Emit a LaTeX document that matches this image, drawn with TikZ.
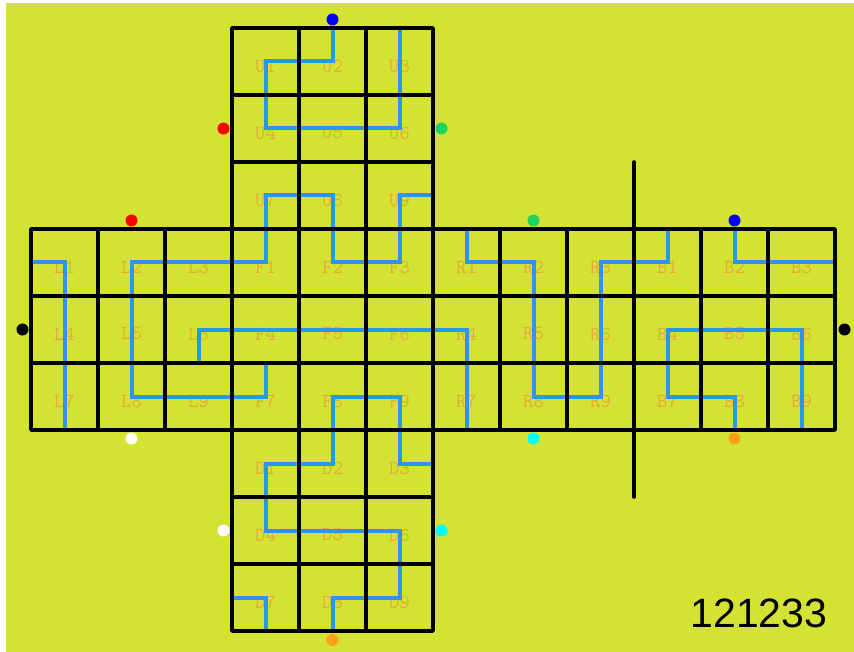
\documentclass[tikz,border=0pt]{standalone}
\usepackage{fontspec}
\newfontfamily\codefont{Liberation Sans}
\definecolor{bgyellow}{RGB}{212,226,52}
\definecolor{lblorange}{RGB}{226,172,58}
\definecolor{pathblue}{RGB}{43,150,240}
\definecolor{dotgreen}{RGB}{30,212,90}
\definecolor{dotorange}{RGB}{255,160,20}
\definecolor{dotcyan}{RGB}{0,255,255}
\tikzset{
  cell/.style={rectangle, minimum width=67pt, minimum height=67pt, inner sep=0pt, outer sep=0pt},
  lbl/.style={text=lblorange, font=\ttfamily\fontsize{20}{20}\selectfont, inner sep=0pt, yshift=-4.5pt},
  bluepath/.style={draw=pathblue, line width=4pt, line join=miter},
  gridline/.style={draw=black, line width=3.5pt, line join=round, line cap=round},
  dot/.style={circle, minimum size=12pt, inner sep=0pt, outer sep=0pt},
}
\begin{document}
\begin{tikzpicture}[x=1pt,y=-1pt]
\useasboundingbox (0,0) rectangle (854,652);
\fill[white] (0,0) rectangle (854,652);
\fill[bgyellow] (6,3) rectangle (854,652);
% cells with labels
\foreach \f/\cx/\cy in {U/3/0, L/0/3, F/3/3, R/6/3, B/9/3, D/3/6} {
  \foreach \k in {1,...,9} {
    \pgfmathtruncatemacro\cc{\cx + mod(\k-1,3)}
    \pgfmathtruncatemacro\rr{\cy + div(\k-1,3)}
    \node[cell, label={[lbl]center:\f\k}] (\f\k) at ({64.5+67*\cc},{61.5+67*\rr}) {};
  }
}
% blue paths
\draw[bluepath] (U2.north) -- (U2.center) -- (U1.center) -- (U4.center) -- (U6.center) -- (U3.center) -- (U3.north);
\draw[bluepath] (F7.north) -- (F7.center) -- (L8.center) -- (L2.center) -- (F1.center) -- (U7.center) -- (U8.center) -- (F2.center) -- (F3.center) -- (U9.center) -- (U9.east);
\draw[bluepath] (L1.west) -- (L1.center) -- (L7.center) -- (L7.south);
\draw[bluepath] (L6.south) -- (L6.center) -- (R4.center) -- (R7.center) -- (R7.south);
\draw[bluepath] (D8.south) -- (D8.center) -- (D9.center) -- (D6.center) -- (D4.center) -- (D1.center) -- (D2.center) -- (F8.center) -- (F9.center) -- (D3.center) -- (D3.east);
\draw[bluepath] (D7.west) -- (D7.center) -- (D7.south);
\draw[bluepath] (R1.north) -- (R1.center) -- (R2.center) -- (R8.center) -- (R9.center) -- (R3.center) -- (B1.center) -- (B1.north);
\draw[bluepath] (B2.north) -- (B2.center) -- (B3.center) -- (B3.east);
\draw[bluepath] (B8.south) -- (B8.center) -- (B7.center) -- (B4.center) -- (B6.center) -- (B9.center) -- (B9.south);
% grid
\foreach \f in {U,L,F,R,B,D} {
  \foreach \k in {1,...,9} {
    \draw[gridline] (\f\k.north west) rectangle (\f\k.south east);
  }
}
\coordinate (septop) at ([yshift=67pt]R3.north east);
\coordinate (sepbot) at ([yshift=-67pt]R9.south east);
\draw[gridline] (septop) -- (sepbot);
% dots
\node[dot, fill=blue] (d1) at ([yshift=8.5pt]U2.north) {};
\node[dot, fill=red] (d2) at ([xshift=-8.5pt]U4.west) {};
\node[dot, fill=dotgreen] (d3) at ([xshift=8.5pt]U6.east) {};
\node[dot, fill=red] (d4) at ([yshift=8.5pt]L2.north) {};
\node[dot, fill=dotgreen] (d5) at ([yshift=8.5pt]R2.north) {};
\node[dot, fill=blue] (d6) at ([yshift=8.5pt]B2.north) {};
\node[dot, fill=black] (d7) at ([xshift=-8.5pt]L4.west) {};
\node[dot, fill=black] (d8) at ([xshift=9.5pt]B6.east) {};
\node[dot, fill=white] (d9) at ([yshift=-8.5pt]L8.south) {};
\node[dot, fill=dotcyan] (d10) at ([yshift=-8.5pt]R8.south) {};
\node[dot, fill=dotorange] (d11) at ([yshift=-8.5pt]B8.south) {};
\node[dot, fill=white] (d12) at ([xshift=-8.5pt]D4.west) {};
\node[dot, fill=dotcyan] (d13) at ([xshift=8.5pt]D6.east) {};
\node[dot, fill=dotorange] (d14) at ([yshift=-9pt]D8.south) {};
% code
\node[font=\codefont\fontsize{41}{41}\selectfont, inner sep=0pt] (code) at (759,613) {121233};
\end{tikzpicture}
\end{document}
